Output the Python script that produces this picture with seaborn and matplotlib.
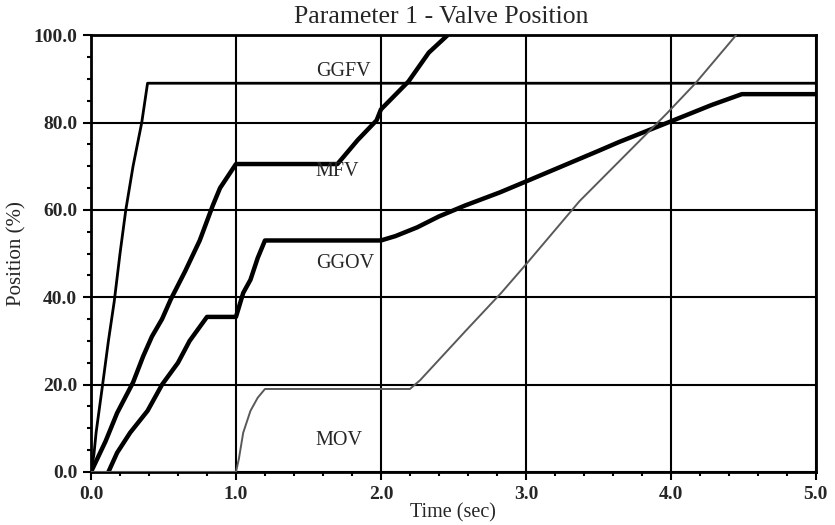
import numpy as np
import pandas as pd
import matplotlib
matplotlib.use("Agg")
import matplotlib.pyplot as plt
import seaborn as sns
from matplotlib.ticker import MultipleLocator, FormatStrFormatter

# ---- data ----
ggfv_t = [0.0, 0.02, 0.035, 0.08, 0.12, 0.16, 0.20, 0.24, 0.29, 0.35, 0.39, 5.0]
ggfv_y = [0.0, 4.0, 9.0, 20.0, 30.0, 39.0, 50.0, 60.0, 70.0, 80.0, 89.0, 89.0]

mfv_t = [0.0, 0.10, 0.18, 0.29, 0.36, 0.42, 0.49, 0.55, 0.65, 0.75, 0.84, 0.89, 1.0,
         1.70, 1.84, 1.97, 2.0, 2.19, 2.33, 2.46]
mfv_y = [0.0, 7.0, 13.5, 20.5, 26.5, 31.0, 35.0, 39.5, 46.0, 53.0, 61.0, 65.0, 70.5,
         70.5, 76.0, 80.5, 83.0, 89.4, 96.0, 100.0]

ggov_t = [0.12, 0.18, 0.27, 0.39, 0.49, 0.60, 0.68, 0.80, 1.0, 1.05, 1.10, 1.15, 1.20,
          2.0, 2.10, 2.25, 2.40, 2.58, 2.82, 3.0, 3.5, 3.64, 3.98, 4.28, 4.49, 5.0]
ggov_y = [0.0, 4.4, 9.0, 14.0, 20.0, 25.0, 30.0, 35.5, 35.5, 41.0, 44.0, 49.0, 53.0,
          53.0, 54.0, 56.0, 58.5, 61.0, 64.0, 66.5, 73.5, 75.5, 80.0, 84.0, 86.5, 86.5]

mov_t = [0.0, 1.0, 1.02, 1.05, 1.10, 1.15, 1.20, 2.20, 2.27, 2.59, 2.83, 3.0, 3.37,
         3.97, 4.17, 4.45]
mov_y = [0.0, 0.0, 3.0, 9.0, 14.0, 17.0, 19.0, 19.0, 21.0, 32.5, 41.0, 47.5, 62.0,
         82.0, 89.0, 100.0]

valves = ["GGFV", "MFV", "GGOV", "MOV"]
label_t = [1.55, 1.55, 1.55, 1.55]
label_y = [91.7, 68.8, 47.7, 7.3]

x_ticks = [0.0, 1.0, 2.0, 3.0, 4.0, 5.0]
y_ticks = [0.0, 20.0, 40.0, 60.0, 80.0, 100.0]

frames = []
for name, t, y in [("GGFV", ggfv_t, ggfv_y), ("MFV", mfv_t, mfv_y),
                   ("GGOV", ggov_t, ggov_y), ("MOV", mov_t, mov_y)]:
    frames.append(pd.DataFrame({"t": t, "pos": y, "valve": name}))
df = pd.concat(frames, ignore_index=True)

sns.set_theme(style="white")
serif = ["Liberation Serif", "DejaVu Serif"]
plt.rcParams["font.family"] = serif

fig = plt.figure(figsize=(8.35, 5.25), dpi=100)
ax = fig.add_axes([0.109, 0.101, 0.868, 0.832])

palette = {"GGFV": "black", "MFV": "black", "GGOV": "black", "MOV": "0.35"}
sizes = {"GGFV": 2.0, "MFV": 3.2, "GGOV": 3.2, "MOV": 1.4}
sns.lineplot(data=df, x="t", y="pos", hue="valve", size="valve",
             palette=palette, sizes=sizes, estimator=None, sort=False,
             legend=False, ax=ax, zorder=3)

ax.set_xlim(0, 5)
ax.set_ylim(0, 100)
ax.set_xticks(x_ticks)
ax.set_yticks(y_ticks)
ax.xaxis.set_major_formatter(FormatStrFormatter("%.1f"))
ax.yaxis.set_major_formatter(FormatStrFormatter("%.1f"))
ax.xaxis.set_minor_locator(MultipleLocator(0.2))
ax.yaxis.set_minor_locator(MultipleLocator(5))
ax.grid(True, which="major", color="black", linewidth=1.5)
ax.set_axisbelow(True)
for s in ax.spines.values():
    s.set_color("black")
    s.set_linewidth(2.0)

ax.tick_params(axis="both", which="major", direction="out", length=6, width=1.5,
               color="black", labelsize=14, pad=4, bottom=True, left=True)
ax.tick_params(axis="both", which="minor", direction="out", length=3, width=1.5,
               color="black", bottom=True, left=True)
for lab in ax.get_xticklabels() + ax.get_yticklabels():
    lab.set_fontweight("bold")

ax.set_title("Parameter 1 - Valve Position", fontsize=18.5, pad=9, x=0.483)
ax.set_xlabel("Time (sec)", fontsize=14.5, labelpad=0)
ax.set_ylabel("Position (%)", fontsize=15, labelpad=5)

for name, tx, ty in zip(valves, label_t, label_y):
    ax.text(tx, ty, name, fontsize=14.5, ha="left", va="center", zorder=4)

fig.savefig("out.png", dpi=100)
